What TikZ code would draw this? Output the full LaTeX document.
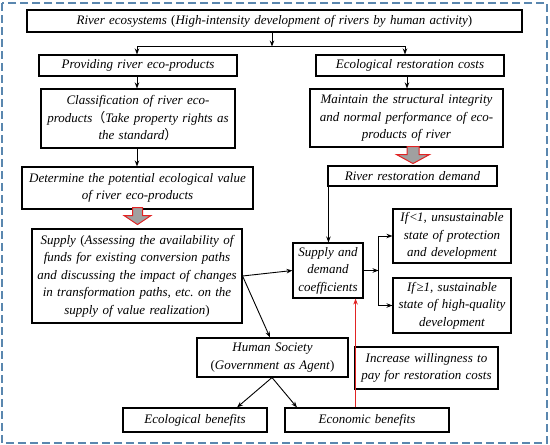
\documentclass[tikz,border=0pt]{standalone}
\usepackage{fontspec}
\setmainfont{Liberation Serif}
\newfontfamily\cjkf{Noto Sans CJK SC}
\usetikzlibrary{arrows.meta,calc}
\definecolor{framec}{RGB}{90,135,175}
\definecolor{redc}{RGB}{225,35,35}
\definecolor{grayc}{RGB}{160,160,160}
\newcommand{\up}[1]{\textup{#1}}
\frenchspacing
\begin{document}
\begin{tikzpicture}[x=1pt,y=-1pt,
  box/.style={draw, line width=1.1pt, inner sep=0pt, align=center, font=\fontsize{13}{17.5}\selectfont\itshape},
  arr/.style={line width=0.9pt, -{Stealth[length=6pt,width=4.5pt]}},
  ln/.style={line width=0.9pt},
  redarr/.style={draw=redc, fill=grayc, line width=1pt, line join=miter}
]
\useasboundingbox (0,0) rectangle (550,445);
\draw[framec, line width=1.3pt, dash pattern=on 8pt off 4pt] (2,3) rectangle (547,443);

\node[box, text width=495pt, minimum height=22pt] (top) at (274.5,21) {River ecosystems \up{(}High-intensity development of rivers by human activity\up{)}};
\node[box, text width=198pt, minimum height=21pt] (prov) at (138,65.5) {Providing river eco-products};
\node[box, text width=188pt, minimum height=21pt] (eco) at (410,65.5) {Ecological restoration costs};
\node[box, text width=194pt, minimum height=59pt] (class) at (138,118.5) {Classification of river eco-\\products{\cjkf （}Take property rights as\\the standard{\cjkf ）}};
\node[box, text width=193pt, minimum height=58pt] (maint) at (406.5,118) {Maintain the structural integrity\\and normal performance of eco-\\products of river};
\node[box, text width=231pt, minimum height=42pt] (det) at (137.5,188) {Determine the potential ecological value\\of river eco-products};
\node[box, text width=210pt, minimum height=94pt] (supply) at (137,276) {Supply \up{(}Assessing the availability of\\funds for existing conversion paths\\and discussing the impact of changes\\in transformation paths, etc. on the\\supply of value realization\up{)}};
\node[box, text width=169pt, minimum height=20pt] (demand) at (412.5,176) {River restoration demand};
\node[box, text width=70pt, minimum height=55pt] (coef) at (328,270.5) {Supply and\\demand\\coefficients};
\node[box, text width=118pt, minimum height=54pt] (if1) at (452,236) {If\up{<}1, unsustainable\\state of protection\\and development};
\node[box, text width=118pt, minimum height=55pt] (if2) at (452,305.5) {If\up{≥}1, sustainable\\state of high-quality\\development};
\node[box, text width=151pt, minimum height=39pt] (human) at (272.5,357.5) {Human Society\\\up{(}Government as Agent\up{)}};
\node[box, text width=143pt, minimum height=42pt] (incr) at (426.5,368) {Increase willingness to\\pay for restoration costs};
\node[box, text width=144pt, minimum height=24pt] (ecob) at (195,420) {Ecological benefits};
\node[box, text width=164pt, minimum height=24pt] (econ) at (367,420) {Economic benefits};

% top split
\coordinate (j0) at ($(top.south)+(-2.5,14)$);
\coordinate (jl) at (137,46);
\coordinate (jr) at (405,46);
\draw[arr] ([xshift=-2.5pt]top.south) -- (j0);
\draw[ln] (jl) -- (jr);
\draw[arr] (jl) -- (jl |- prov.north);
\draw[arr] (jr) -- (jr |- eco.north);
\draw[arr] ([xshift=-1pt]prov.south) -- ([xshift=-1pt]prov.south |- class.north);
\draw[arr] ([xshift=-3pt]eco.south) -- ([xshift=-3pt]eco.south |- maint.north);
\draw[arr] ([xshift=-1pt]class.south) -- ([xshift=-1pt]class.south |- det.north);

% red block arrows
\path ([yshift=2pt]det.south) coordinate (ra);
\draw[redarr] ($(ra)+(-5,0)$) -- ($(ra)+(5,0)$) -- ($(ra)+(5,8)$) -- ($(ra)+(13.5,8)$) -- ($(ra)+(0,17)$) -- ($(ra)+(-13.5,8)$) -- ($(ra)+(-5,8)$) -- cycle;
\path ([xshift=6.5pt,yshift=1pt]maint.south) coordinate (rb);
\draw[redarr] ($(rb)+(-6,0)$) -- ($(rb)+(6,0)$) -- ($(rb)+(6,8)$) -- ($(rb)+(16.5,8)$) -- ($(rb)+(0,17)$) -- ($(rb)+(-16.5,8)$) -- ($(rb)+(-6,8)$) -- cycle;

% demand to coef
\draw[arr] ([xshift=1pt]demand.south west) -- ([xshift=1pt]demand.south west |- coef.north);

% supply
\coordinate (sp) at (supply.east);
\draw[arr] (sp) -- (coef.west);
\draw[arr] (sp) -- ([xshift=-2.5pt]human.north);

% coef to ifs
\coordinate (cj) at ($(coef.east)+(15,0)$);
\draw[arr] (coef.east) -- (cj);
\draw[ln] (cj |- if1.west) -- (cj |- if2.west);
\draw[arr] (cj |- if1.west) -- (if1.west);
\draw[arr] (cj |- if2.west) -- (if2.west);

% red feedback
\coordinate (rr) at ([xshift=-8pt]coef.south east);
\draw[redc, line width=0.8pt, -{Stealth[length=6pt,width=4.5pt]}] (econ.north -| rr) -- (rr);

% human to benefits
\draw[arr] ([xshift=-0.5pt]human.south) -- ([xshift=42pt]ecob.north);
\draw[arr] ([xshift=-0.5pt]human.south) -- ([xshift=-70pt]econ.north);
\end{tikzpicture}
\end{document}
